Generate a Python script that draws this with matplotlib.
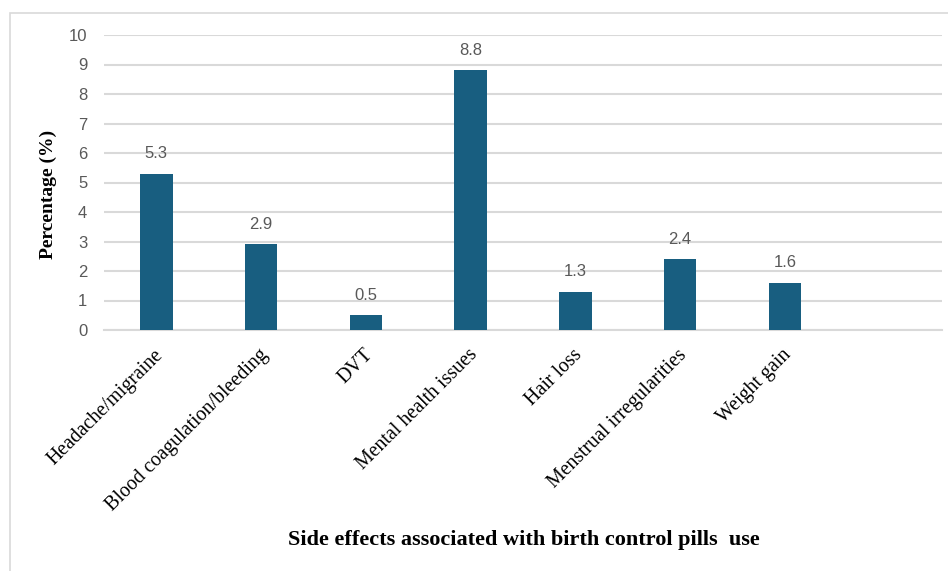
import matplotlib.pyplot as plt
import matplotlib.transforms as mtransforms
from matplotlib.patches import Rectangle

# side effects reported for birth control pill use, in percent
effects = ['Headache/migraine', 'Blood coagulation/bleeding', 'DVT',
           'Mental health issues', 'Hair loss', 'Menstrual irregularities',
           'Weight gain', '']
percent = [5.3, 2.9, 0.5, 8.8, 1.3, 2.4, 1.6, None]
y_ticks = [0, 1, 2, 3, 4, 5, 6, 7, 8, 9, 10]

bar_color = '#185e80'
grid_color = '#d9d9d9'
text_gray = '#595959'

W, H = 948, 571
fig = plt.figure(figsize=(W / 100, H / 100), dpi=100)
ax = fig.add_axes([104 / W, 1 - 330 / H, 838 / W, 295 / H])

# chart frame
fig.patches.append(Rectangle((10 / W, -0.01), 1.0, 1 - 13 / H + 0.01,
                             transform=fig.transFigure, fill=False,
                             edgecolor='#d9d9d9', linewidth=1.2))

xs = range(len(effects))
vals = [v if v is not None else 0 for v in percent]
ax.bar(xs, vals, width=0.31, color=bar_color, zorder=3)
for x, v in zip(xs, percent):
    if v is None:
        continue
    ax.annotate(f'{v}', (x, v), xytext=(0, 9), textcoords='offset points',
                ha='center', va='bottom', fontsize=12, color=text_gray,
                family='Liberation Sans')

ax.set_xlim(-0.5, len(effects) - 0.5)
ax.set_ylim(0, 10)
ax.set_yticks(y_ticks)
ax.set_yticklabels([str(t) for t in y_ticks], fontsize=12, color=text_gray,
                   family='Liberation Sans')
ax.yaxis.grid(True, color=grid_color, linewidth=1.5, zorder=0)
ax.set_axisbelow(True)
ax.tick_params(axis='both', length=0)
ax.tick_params(axis='y', pad=12)
for side in ['top', 'right', 'left']:
    ax.spines[side].set_visible(False)
ax.spines['bottom'].set_color(grid_color)
ax.spines['bottom'].set_linewidth(1.5)

ax.set_xticks(list(xs))
ax.set_xticklabels(effects, rotation=45, ha='right', va='center',
                   rotation_mode='anchor', fontsize=14.3,
                   family='Liberation Serif')
ax.tick_params(axis='x', pad=16)
# nudge the slanted labels a little to the right
nudge = mtransforms.ScaledTranslation(4 / 100, 0, fig.dpi_scale_trans)
for lbl in ax.get_xticklabels():
    lbl.set_transform(lbl.get_transform() + nudge)

fig.text(48 / W, 1 - 194 / H, 'Percentage (%)', rotation=90,
         ha='center', va='center', fontsize=14, fontweight='bold',
         family='Liberation Serif')
fig.text(524 / W, 1 - 540 / H,
         'Side effects associated with birth control pills  use',
         ha='center', va='center', fontsize=16, fontweight='bold',
         family='Liberation Serif')

fig.savefig('out.png', dpi=100)
